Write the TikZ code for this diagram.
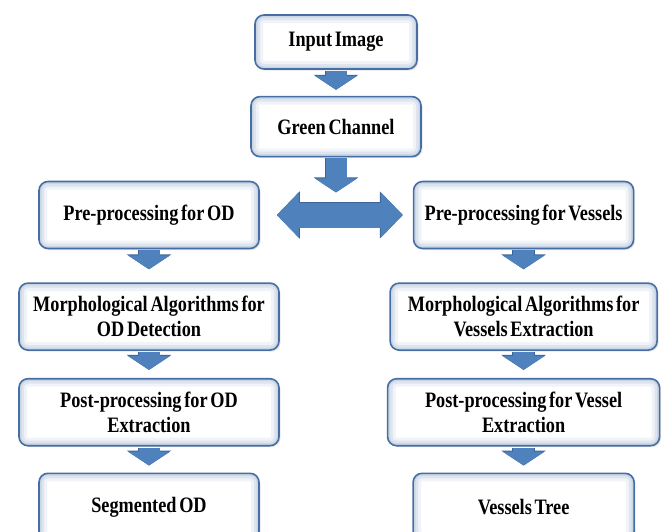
\documentclass[tikz,border=0pt]{standalone}
\usepackage{fontspec}
\setmainfont{Liberation Serif}[BoldFont={Liberation Serif Bold}, FakeStretch=0.83, WordSpace=0.6]
\usepackage{tikz}
\usetikzlibrary{arrows.meta, positioning, calc, shadows}
\definecolor{BoxBlue}{RGB}{70, 110, 165}
\definecolor{ArrowBlue}{RGB}{79, 129, 189}
\definecolor{ArrowEdge}{RGB}{60, 100, 150}
\tikzset{
  stage/.style={rectangle, rounded corners=9pt, draw=BoxBlue, line width=1.6pt,
                fill=white, minimum width=#1, minimum height=67pt, inner sep=2pt,
                font=\fontsize{22}{25}\selectfont\bfseries, align=center,
                drop shadow={shadow xshift=1.5pt, shadow yshift=-1.5pt, opacity=0.2},
                path picture={
                  \foreach \w/\o in {16/0.08, 10/0.10, 5/0.12}
                    \draw[BoxBlue, opacity=\o, line width=\w pt]
                      (path picture bounding box.south west) rectangle
                      (path picture bounding box.north east);
                }},
  flow/.style={line width=21pt, ArrowBlue, -{Triangle[width=42pt, length=14pt]},
               preaction={draw=ArrowEdge, line width=22.5pt,
                          -{Triangle[width=44pt, length=15pt]}}},
  twoway/.style={line width=25pt, ArrowBlue,
                 {Triangle[width=44pt, length=22pt]}-{Triangle[width=44pt, length=22pt]},
                 preaction={draw=ArrowEdge, line width=26.5pt,
                            {Triangle[width=46pt, length=23pt]}-{Triangle[width=46pt, length=23pt]}}},
}

\begin{document}
\begin{tikzpicture}[x=1pt, y=-1pt]
  \useasboundingbox (0,0) rectangle (665,531);

  % common trunk
  \node[stage=162pt, minimum height=54pt] (inp) at (336,42) {Input Image};
  \node[stage=170pt, minimum height=60pt, below=26pt of inp] (grn) {Green Channel};

  % optic disc branch
  \node[stage=220pt] (preOD) at (149,215) {Pre-processing for OD};
  \node[stage=260pt, below=33pt of preOD] (morphOD) {Morphological Algorithms for\\OD Detection};
  \node[stage=260pt, below=27pt of morphOD] (postOD) {Post-processing for OD\\Extraction};
  \node[stage=220pt, below=26pt of postOD] (segOD) {Segmented OD};

  % vessel branch
  \node[stage=220pt, right=153pt of preOD] (preV) {Pre-processing for Vessels};
  \node[stage=267pt, below=33pt of preV] (morphV) {Morphological Algorithms for\\Vessels Extraction};
  \node[stage=272pt, below=27pt of morphV] (postV) {Post-processing for Vessel\\Extraction};
  \node[stage=221pt, below=26pt of postV] (tree) {Vessels Tree};

  \coordinate (split) at ($(grn.south)+(0,35)$);

  \draw[flow, shorten <=1pt, shorten >=6pt] (inp.south) -- (grn.north);
  \draw[flow, shorten <=1pt] (grn.south) -- (split);
  \draw[twoway, shorten <=17pt, shorten >=10pt] (preOD.east) -- (preV.west);

  \draw[flow, shorten <=1pt, shorten >=13pt] (preOD.south) -- (morphOD.north);
  \draw[flow, shorten <=1pt, shorten >=8pt] (morphOD.south) -- (postOD.north);
  \draw[flow, shorten <=1pt, shorten >=7pt] (postOD.south) -- (segOD.north);

  \draw[flow, shorten <=1pt, shorten >=13pt] (preV.south) -- (morphV.north);
  \draw[flow, shorten <=1pt, shorten >=8pt] (morphV.south) -- (postV.north);
  \draw[flow, shorten <=1pt, shorten >=7pt] (postV.south) -- (tree.north);
\end{tikzpicture}
\end{document}
